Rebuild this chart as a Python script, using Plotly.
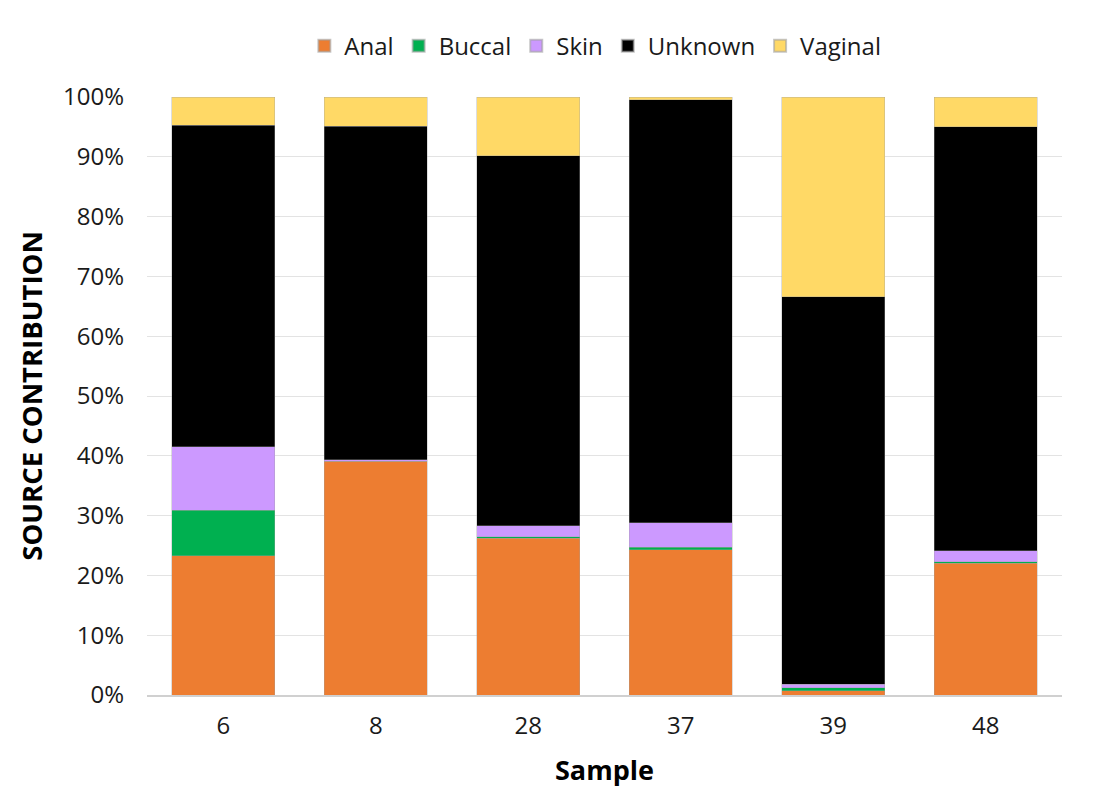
import plotly.graph_objects as go

samples = ["6", "8", "28", "37", "39", "48"]
anal = [23.3, 39.1, 26.2, 24.3, 0.7, 22.0]
buccal = [7.6, 0.0, 0.3, 0.4, 0.5, 0.3]
skin = [10.6, 0.2, 1.8, 4.1, 0.6, 1.8]
unknown = [53.8, 55.8, 61.9, 70.7, 64.8, 70.9]
vaginal = [4.7, 4.9, 9.8, 0.5, 33.4, 5.0]

series = [
    ("Anal", anal, "#ED7D31"),
    ("Buccal", buccal, "#00B050"),
    ("Skin", skin, "#CC99FF"),
    ("Unknown", unknown, "#000000"),
    ("Vaginal", vaginal, "#FFD966"),
]

fig = go.Figure()
for name, vals, color in series:
    fig.add_trace(go.Bar(
        x=samples, y=[v / 100 for v in vals], name=name,
        marker=dict(color=color, line=dict(width=0.6, color="rgba(160,160,160,0.6)")),
    ))

W, H = 1099, 800
ml, mr, mt, mb = 139, 45, 89, 113
fig.update_layout(
    width=W, height=H,
    barmode="stack", bargap=0.325,
    plot_bgcolor="white", paper_bgcolor="white",
    margin=dict(l=ml, r=mr, t=mt, b=mb),
    font=dict(family="Open Sans, Noto Sans, sans-serif", size=24, color="#1a1a1a"),
    legend=dict(orientation="h", x=0.49, xanchor="center", y=1.085, yanchor="middle",
                font=dict(size=24), itemsizing="constant", traceorder="normal"),
    xaxis=dict(
        type="category", showline=True, linecolor="#d0d0d0", linewidth=1.5,
        ticks="", tickfont=dict(size=24), ticklabelstandoff=8,
        title=dict(text="<b>Sample</b>", font=dict(size=27, color="#000"), standoff=22),
    ),
    yaxis=dict(
        range=[0, 1], dtick=0.1, tickformat=".0%", showgrid=True,
        gridcolor="#e3e3e3", gridwidth=1.2, zeroline=False, ticks="",
        tickfont=dict(size=24), ticklabelstandoff=22,
        title=dict(text="<b>SOURCE CONTRIBUTION</b>", font=dict(size=27.5, color="#000"), standoff=12),
    ),
)

fig.write_html("out.html")
